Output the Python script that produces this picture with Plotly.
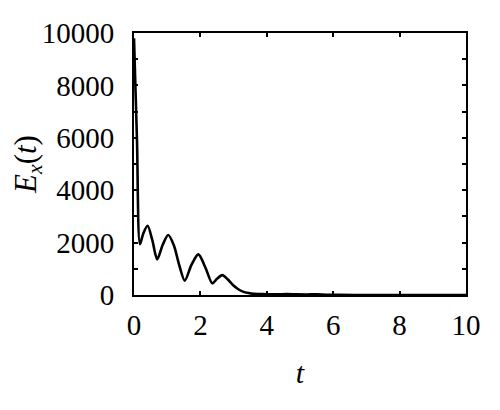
import plotly.graph_objects as go

# values
t_values = [0, 0.09, 0.18, 0.28, 0.41, 0.55, 0.70, 0.86, 1.03, 1.2, 1.35, 1.53,
            1.73, 1.94, 2.15, 2.36, 2.5, 2.66, 2.82, 2.98, 3.13, 3.28, 3.45, 3.6,
            3.8, 4.0, 4.3, 4.6, 4.9, 5.2, 5.5, 5.8, 6.2, 7, 8, 9, 10]
ex_values = [9800, 5900, 1940, 2350, 2640, 2100, 1360, 1900, 2290, 1900, 1200, 550,
             1150, 1550, 1050, 445, 620, 760, 600, 380, 230, 130, 75, 45,
             35, 30, 25, 35, 25, 20, 25, 10, 5, 0, 0, 0, 0]

x_ticks = [0, 2, 4, 6, 8, 10]
y_ticks = [0, 2000, 4000, 6000, 8000, 10000]

FONT = 'Liberation Serif'

fig = go.Figure(go.Scatter(
    x=t_values,
    y=ex_values,
    mode='lines',
    line=dict(color='black', width=2.6, shape='spline', smoothing=0.8),
    hoverinfo='skip',
))

axis_common = dict(
    showgrid=False,
    zeroline=False,
    showline=True,
    linecolor='black',
    linewidth=2,
    mirror='ticks',
    ticks='inside',
    ticklen=4,
    tickwidth=1.5,
    tickcolor='black',
    automargin=False,
    tickfont=dict(family=FONT, size=29, color='black'),
)

# the page body adds ~8px offset, so margins are shifted to land the axes in place
fig.update_layout(
    width=500,
    height=410,
    margin=dict(l=126, r=42, t=25, b=123),
    paper_bgcolor='white',
    plot_bgcolor='white',
    showlegend=False,
    xaxis=dict(
        range=[0, 10],
        tickvals=x_ticks,
        ticktext=[str(v) for v in x_ticks],
        ticklabelstandoff=3,
        title=dict(text='<i>t</i>', font=dict(family=FONT, size=30, color='black'), standoff=22),
        **axis_common,
    ),
    yaxis=dict(
        range=[0, 10000],
        tickvals=y_ticks,
        ticktext=[str(v) for v in y_ticks],
        ticklabelstandoff=12,
        minor=dict(dtick=1000, ticks='inside', ticklen=4, tickwidth=1.5, tickcolor='black'),
        title=dict(text='<i>E</i><sub><i>x</i></sub>(<i>t</i>)',
                   font=dict(family=FONT, size=31, color='black'), standoff=6),
        **axis_common,
    ),
)

fig.write_html('out.html')
